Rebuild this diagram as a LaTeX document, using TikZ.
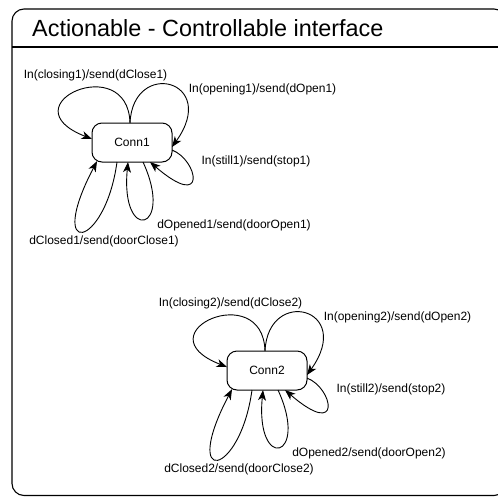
\documentclass[tikz,border=0pt]{standalone}
\usepackage{fontspec}
\setmainfont{Liberation Sans}
\usetikzlibrary{arrows.meta}
\begin{document}
\begin{tikzpicture}[x=1pt,y=-1pt,
  state/.style={draw, line width=1pt, rounded corners=10pt, minimum width=80pt,
    minimum height=39pt, inner sep=0pt, font=\fontsize{12}{14}\selectfont},
  lbl/.style={inner sep=0pt, font=\fontsize{12}{14}\selectfont},
  trans/.style={draw, line width=0.9pt, -{Stealth[length=10.5pt,width=8pt,inset=3pt]}}]
\useasboundingbox (0,0) rectangle (498,496);
\clip (0,0) rectangle (498,496);
% outer frame and title compartment
\draw[line width=1.1pt, rounded corners=12pt] (12,9) rectangle (506,495.5);
\draw[line width=1.1pt] (12,47) -- (506,47);
\node[anchor=base west, inner sep=0pt, font=\fontsize{23.4}{28}\selectfont] (title) at (32,36)
  {Actionable - Controllable interface};
% the two connector state machines
\foreach \i/\cx/\cy in {1/132/142.5, 2/267/370.5} {
  \node[state] (c\i) at (\cx,\cy) {Conn\i};
  \node[lbl] (lclose\i) at (\cx-36.5,\cy-67.5) {In(closing\i)/send(dClose\i)};
  \node[lbl] (lopen\i) at (\cx+130.5,\cy-53.5) {In(opening\i)/send(dOpen\i)};
  \node[lbl] (lstill\i) at (\cx+124,\cy+18.5) {In(still\i)/send(stop\i)};
  \node[lbl] (lopened\i) at (\cx+102,\cy+82.5) {dOpened\i/send(doorOpen\i)};
  \node[lbl] (lclosed\i) at (\cx-28,\cy+98.5) {dClosed\i/send(doorClose\i)};
  % self transitions
  \draw[trans] ([shift={(-2,-19.5)}]c\i.center) .. controls +(-2,-73) and +(-87,-34) .. ([shift={(-40,-3.5)}]c\i.center);
  \draw[trans] ([shift={(-2,-19.5)}]c\i.center) .. controls +(3,-65) and +(48,-67) .. ([shift={(40,4.5)}]c\i.center);
  \draw[trans] ([shift={(40,7.5)}]c\i.center) .. controls +(26,10) and +(58,50) .. ([shift={(18,19.5)}]c\i.center);
  \draw[trans] ([shift={(11,19.5)}]c\i.center) .. controls +(32,69.5) and +(-8,82.5) .. ([shift={(-4,19.5)}]c\i.center);
  \draw[trans] ([shift={(-15,19.5)}]c\i.center) .. controls +(-12,87.5) and +(-52,99) .. ([shift={(-35,18.7)}]c\i.center);
}
\end{tikzpicture}
\end{document}
